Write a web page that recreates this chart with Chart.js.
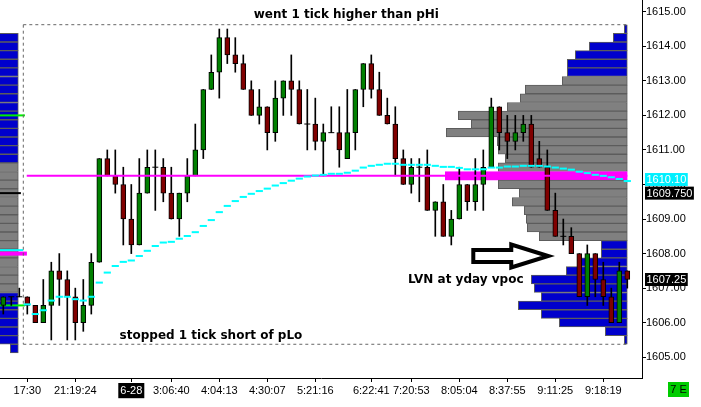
<!DOCTYPE html>
<html>
<head>
<meta charset="utf-8">
<script src="https://cdn.jsdelivr.net/npm/chart.js@4.4.0/dist/chart.umd.min.js"></script>
<style>
  html, body { margin: 0; padding: 0; background: #fff; }
  #wrap { width: 701px; height: 407px; }
</style>
</head>
<body>
<div id="wrap"><canvas id="grafico"></canvas></div>
<script>
// ES bars, one per slot (index 0..78)
const opens = [1606.5,1606.75,1606.75,1606.75,1606.5,1606.0,1606.5,1607.5,1607.25,1606.75,
  1606.0,1606.5,1607.75,1610.75,1610.25,1610.0,1609.0,1608.25,1609.75,1610.5,
  1610.5,1609.75,1609.0,1609.75,1610.25,1611.0,1612.75,1613.25,1614.25,1613.75,
  1613.5,1612.75,1612.0,1612.25,1611.5,1612.5,1613.0,1612.75,1611.75,1611.75,
  1611.25,1611.5,1611.5,1610.75,1611.5,1612.75,1613.5,1612.75,1612.0,1611.75,
  1610.75,1610.0,1610.5,1610.5,1609.25,1609.5,1608.5,1609.0,1610.0,1609.5,
  1610.0,1610.5,1612.25,1611.5,1611.25,1611.5,1611.75,1610.75,1610.5,1609.25,
  1608.5,1608.5,1608.0,1606.75,1608.0,1607.25,1606.75,1606.0,1607.5];
const highs = [1606.75,1606.75,1607.0,1606.75,1606.5,1607.25,1607.75,1608.0,1607.5,1607.0,
  1607.25,1608.0,1610.75,1611.0,1611.0,1610.5,1610.0,1610.75,1611.0,1611.0,
  1610.75,1610.5,1609.75,1610.75,1611.75,1612.75,1613.75,1614.5,1614.5,1614.25,
  1613.75,1613.0,1612.75,1612.25,1613.0,1613.0,1613.75,1613.0,1612.75,1612.5,
  1611.75,1612.25,1612.25,1612.75,1612.75,1613.5,1613.75,1613.25,1612.5,1612.25,
  1611.0,1610.75,1610.75,1611.0,1609.5,1610.0,1609.25,1610.5,1610.0,1610.75,
  1611.0,1612.5,1612.25,1612.0,1612.0,1612.0,1612.0,1611.25,1611.0,1609.75,
  1609.0,1608.75,1608.0,1608.25,1608.0,1607.75,1607.0,1607.75,1607.5];
const lows = [1606.25,1606.5,1606.75,1606.25,1606.0,1606.0,1605.5,1606.5,1605.5,1605.5,
  1605.75,1606.25,1607.75,1610.25,1609.75,1608.25,1608.0,1608.25,1609.75,1609.25,
  1609.5,1609.0,1608.5,1609.5,1610.25,1610.75,1612.75,1612.5,1613.5,1613.25,
  1612.75,1612.0,1611.75,1611.0,1611.25,1612.0,1612.0,1611.75,1611.0,1611.0,
  1610.25,1611.5,1610.5,1610.75,1611.0,1612.25,1612.5,1612.0,1611.75,1610.25,
  1610.0,1609.75,1609.5,1609.25,1608.5,1608.5,1608.25,1609.0,1609.25,1609.25,
  1609.25,1610.5,1611.0,1610.75,1611.0,1611.25,1610.5,1610.5,1609.25,1608.5,
  1608.25,1608.0,1606.75,1606.5,1606.75,1606.5,1606.0,1606.0,1607.0];
const closes = [1606.75,1606.75,1606.75,1606.5,1606.0,1606.5,1607.5,1607.25,1606.75,1606.0,
  1606.5,1607.75,1610.75,1610.25,1610.0,1609.0,1608.25,1609.75,1610.5,1610.5,
  1609.75,1609.0,1609.75,1610.25,1611.0,1612.75,1613.25,1614.25,1613.75,1613.5,
  1612.75,1612.0,1612.25,1611.5,1612.5,1613.0,1612.75,1611.75,1611.75,1611.25,
  1611.5,1611.5,1611.0,1611.5,1612.75,1613.5,1612.75,1612.0,1611.75,1610.75,
  1610.0,1610.5,1610.5,1609.25,1609.5,1608.5,1609.0,1610.0,1609.5,1610.0,
  1610.5,1612.25,1611.5,1611.25,1611.5,1611.75,1610.5,1610.5,1609.25,1608.5,
  1608.5,1608.0,1606.75,1608.0,1607.25,1606.75,1606.0,1607.5,1607.25];

// session vwap, one value per bar from the session open (index 3)
const sessionStart = 3;
const vwap = [1606.53,1606.25,1606.36,1606.64,1606.75,1606.75,1606.68,1606.64,1606.75,1607.16,
  1607.45,1607.64,1607.76,1607.80,1607.93,1608.08,1608.22,1608.32,1608.34,1608.43,
  1608.51,1608.62,1608.80,1608.97,1609.20,1609.38,1609.52,1609.64,1609.73,1609.81,
  1609.88,1609.97,1610.04,1610.11,1610.17,1610.23,1610.26,1610.28,1610.31,1610.31,
  1610.34,1610.40,1610.49,1610.54,1610.57,1610.60,1610.60,1610.57,1610.57,1610.57,
  1610.57,1610.54,1610.51,1610.51,1610.48,1610.44,1610.44,1610.44,1610.49,1610.49,
  1610.52,1610.52,1610.54,1610.54,1610.54,1610.52,1610.49,1610.46,1610.43,1610.37,
  1610.33,1610.28,1610.25,1610.21,1610.16,1610.10];

// today's volume profile (price rows, top to bottom)
const profPrices = [1614.5,1614.25,1614.0,1613.75,1613.5,1613.25,1613.0,1612.75,1612.5,1612.25,
  1612.0,1611.75,1611.5,1611.25,1611.0,1610.75,1610.5,1610.25,1610.0,1609.75,
  1609.5,1609.25,1609.0,1608.75,1608.5,1608.25,1608.0,1607.75,1607.5,1607.25,
  1607.0,1606.75,1606.5,1606.25,1606.0,1605.75,1605.5];
const profVol = [3,14,38,52,60,60,65,102,107,120,
  169,156,181,130,129,122,129,182,129,108,
  115,103,101,100,88,26,26,47,61,96,
  93,86,109,86,68,22,3];
const vaHigh = 1613.0, vaLow = 1608.5, profPoc = 1610.25;

// yesterday's profile, only its right end is on screen
const prevPrices = [1614.25,1614.0,1613.75,1613.5,1613.25,1613.0,1612.75,1612.5,1612.25,1612.0,
  1611.75,1611.5,1611.25,1611.0,1610.75,1610.5,1610.25,1610.0,1609.75,1609.5,
  1609.25,1609.0,1608.75,1608.5,1608.25,1608.0,1607.75,1607.5,1607.25,1607.0,
  1606.75,1606.5,1606.25,1606.0,1605.75,1605.5,1605.25];
const prevVol = [40,45,52,60,64,70,72,75,80,86,
  90,95,98,104,110,118,124,130,136,140,
  138,132,128,126,150,160,140,120,110,96,
  80,70,60,48,36,26,8];
const prevVaHigh = 1610.5, prevVaLow = 1607.0;

// levels from previous sessions
const prevVah = 1612.0, prevVal = 1606.5, prevClose = 1609.75, prevPoc = 1608.0, prevVwap = 1608.1;
const yPoc = 1610.25; // yesterday's vpoc, carried forward

const tick = 0.25;

const xTickIdx = [3, 9, 16, 21, 27, 33, 39, 46, 51, 57, 63, 69, 75];
const xTickLabels = ['17:30', '21:19:24', '6-28', '3:06:40', '4:04:13', '4:30:07', '5:21:16',
  '6:22:41', '7:20:53', '8:05:04', '8:37:55', '9:11:25', '9:18:19'];
const yTickVals = [1605, 1606, 1607, 1608, 1609, 1610, 1611, 1612, 1613, 1614, 1615];

const notes = [
  { text: 'went 1 tick higher than pHi', x: 42.88, y: 1614.81 },
  { text: 'stopped 1 tick short of pLo', x: 25.96, y: 1605.52 },
  { text: 'LVN at yday vpoc', x: 57.81, y: 1607.16 }
];
const arrow = { tailX: 58.75, tipX: 68.12, y: 1607.93 };

const lastIdx = opens.length - 1;
const volPerBar = 8; // profile volume units per bar slot
const prevEdge = 1.875;

const candleIdx = opens.map((o, i) => i);
const bodies = candleIdx.filter(i => opens[i] !== closes[i]);
const dojis = candleIdx.filter(i => opens[i] === closes[i]);

const sessHigh = Math.max(...highs) + tick / 2;
const sessLow = Math.min(...lows) - tick / 2;

function flatLine(x0, x1, y, color, width, extra) {
  return Object.assign({
    type: 'line',
    data: [{ x: x0, y: y }, { x: x1, y: y }],
    borderColor: color,
    borderWidth: width,
    pointRadius: 0,
    order: 9
  }, extra || {});
}

const datasets = [
  // yesterday's profile
  {
    type: 'bar', indexAxis: 'y', grouped: false,
    data: prevPrices.map((p, i) => ({ y: p, x: [prevEdge - prevVol[i] / volPerBar, prevEdge] })),
    backgroundColor: prevPrices.map(p => (p <= prevVaHigh && p >= prevVaLow) ? '#808080' : '#0000cc'),
    borderColor: '#5c5c5c', borderWidth: 1, borderSkipped: false,
    barThickness: 8.6, order: 12
  },
  // today's profile
  {
    type: 'bar', indexAxis: 'y', grouped: false,
    data: profPrices.map((p, i) => ({ y: p, x: [lastIdx - profVol[i] / volPerBar, lastIdx] })),
    backgroundColor: profPrices.map(p => p === profPoc ? '#ff00ff' : (p <= vaHigh && p >= vaLow) ? '#808080' : '#0000cc'),
    borderColor: profPrices.map(p => p === profPoc ? '#ff00ff' : '#5c5c5c'),
    borderWidth: 1, borderSkipped: false,
    barThickness: 8.6, order: 11
  },
  flatLine(-1, 2.7, prevVah, '#00ee00', 2),
  flatLine(-1, 2.7, prevVal, '#00ee00', 2),
  flatLine(-1, 2.2, prevClose, '#000', 2),
  flatLine(-1, 2.95, prevPoc, '#ff00ff', 4),
  flatLine(-1, 2.5, prevVwap, '#00ffff', 2),
  // session range box
  flatLine(sessionStart - 0.5, lastIdx, sessHigh, '#666', 1, { borderDash: [3, 3], order: 8 }),
  flatLine(sessionStart - 0.5, lastIdx, sessLow, '#666', 1, { borderDash: [3, 3], order: 8 }),
  {
    type: 'line',
    data: [{ x: sessionStart - 0.5, y: sessHigh }, { x: sessionStart - 0.5, y: sessLow }],
    borderColor: '#666', borderWidth: 1, borderDash: [3, 3], pointRadius: 0, order: 8
  },
  // wicks
  {
    type: 'bar', grouped: false,
    data: candleIdx.map(i => ({ x: i, y: [lows[i], highs[i]] })),
    backgroundColor: '#000', borderWidth: 0, barThickness: 1, order: 6
  },
  // bodies
  {
    type: 'bar', grouped: false,
    data: bodies.map(i => ({ x: i, y: [opens[i], closes[i]] })),
    backgroundColor: bodies.map(i => closes[i] > opens[i] ? '#008000' : '#800000'),
    borderColor: '#000', borderWidth: 1, borderSkipped: false,
    barThickness: 5, order: 5
  },
  // doji
  {
    type: 'scatter',
    data: dojis.map(i => ({ x: i, y: opens[i] })),
    pointStyle: 'line', pointRadius: 3, borderColor: '#000', borderWidth: 1, order: 4
  },
  // yesterday's vpoc line
  flatLine(sessionStart - 0.07, lastIdx, yPoc, '#ff00ff', 2, { order: 2 }),
  // vwap steps
  {
    type: 'scatter',
    data: vwap.map((v, k) => ({ x: sessionStart + k, y: v })),
    pointStyle: 'line', pointRadius: 3.6, borderColor: '#00ffff', borderWidth: 2, order: 0
  }
];

const axisTags = [
  { value: vwap[vwap.length - 1], text: vwap[vwap.length - 1].toFixed(2), bg: '#00f0ff', dy: -1.5 },
  { value: prevClose, text: prevClose.toFixed(3), bg: '#000', dy: 0 },
  { value: closes[lastIdx], text: closes[lastIdx].toFixed(2), bg: '#000', dy: 0 }
];

const notesPlugin = {
  id: 'notes',
  afterDatasetsDraw(chart) {
    const { ctx, scales: { x, y } } = chart;
    ctx.save();
    ctx.font = 'bold 12px "DejaVu Sans"';
    ctx.fillStyle = '#000';
    ctx.textAlign = 'center';
    ctx.textBaseline = 'alphabetic';
    notes.forEach(n => ctx.fillText(n.text, x.getPixelForValue(n.x), y.getPixelForValue(n.y)));

    // hollow arrow
    const x0 = x.getPixelForValue(arrow.tailX);
    const x1 = x.getPixelForValue(arrow.tipX);
    const yc = y.getPixelForValue(arrow.y);
    const hx = x1 - 37;
    ctx.beginPath();
    ctx.moveTo(x0, yc - 6);
    ctx.lineTo(hx, yc - 6);
    ctx.lineTo(hx, yc - 11.5);
    ctx.lineTo(x1, yc);
    ctx.lineTo(hx, yc + 11.5);
    ctx.lineTo(hx, yc + 6);
    ctx.lineTo(x0, yc + 6);
    ctx.closePath();
    ctx.fillStyle = '#fff';
    ctx.fill();
    ctx.lineWidth = 4;
    ctx.lineJoin = 'miter';
    ctx.strokeStyle = '#000';
    ctx.stroke();
    ctx.restore();
  },
  afterDraw(chart) {
    const { ctx, chartArea, scales: { y } } = chart;
    ctx.save();
    ctx.font = '11px "Liberation Sans"';
    ctx.textBaseline = 'middle';
    ctx.textAlign = 'left';
    axisTags.forEach(t => {
      const py = y.getPixelForValue(t.value) + t.dy;
      const w = ctx.measureText(t.text).width + 3;
      ctx.fillStyle = t.bg;
      ctx.fillRect(y.left + 3, py - 6.5, w, 13);
      ctx.fillStyle = '#fff';
      ctx.fillText(t.text, y.left + 4.5, py + 0.5);
    });
    // connection box
    ctx.fillStyle = '#00cc00';
    ctx.fillRect(chartArea.right + 26, chartArea.bottom + 4, 21, 15);
    ctx.fillStyle = '#000';
    ctx.textAlign = 'center';
    ctx.fillText('7 E', chartArea.right + 36.5, chartArea.bottom + 12);
    ctx.restore();
  }
};

new Chart(document.getElementById('grafico'), {
  type: 'bar',
  data: { datasets: datasets },
  options: {
    responsive: true,
    maintainAspectRatio: false,
    animation: false,
    events: [],
    layout: { padding: 0, autoPadding: false },
    plugins: {
      legend: { display: false },
      tooltip: { enabled: false }
    },
    scales: {
      x: {
        type: 'linear', min: -0.4125, max: 79.8375, offset: false, beginAtZero: false,
        grid: { drawOnChartArea: false, drawTicks: true, tickLength: 4, color: '#000', offset: false },
        border: { display: true, color: '#000', width: 1 },
        afterBuildTicks: s => { s.ticks = xTickIdx.map(v => ({ value: v })); },
        afterFit: s => { s.height = 29; s.paddingLeft = 0; s.paddingRight = 0; },
        ticks: {
          autoSkip: false, maxRotation: 0, minRotation: 0, padding: 2,
          font: { family: 'Liberation Sans', size: 11 },
          color: c => (c.tick && xTickLabels[xTickIdx.indexOf(c.tick.value)] === '6-28') ? '#fff' : '#000',
          showLabelBackdrop: c => !!(c.tick && xTickLabels[xTickIdx.indexOf(c.tick.value)] === '6-28'),
          backdropColor: '#000',
          backdropPadding: { top: 1, bottom: 1, left: 2, right: 2 },
          callback: v => xTickLabels[xTickIdx.indexOf(v)]
        }
      },
      y: {
        type: 'linear', position: 'right', min: 1604.399, max: 1615.340,
        offset: false, beginAtZero: false,
        grid: { drawOnChartArea: false, drawTicks: true, tickLength: 4, color: '#000', offset: false },
        border: { display: true, color: '#000', width: 1 },
        afterBuildTicks: s => { s.ticks = yTickVals.map(v => ({ value: v })); },
        afterFit: s => { s.width = 59; s.paddingTop = 0; s.paddingBottom = 0; },
        ticks: {
          padding: 0,
          font: { family: 'Liberation Sans', size: 11 },
          color: '#000',
          callback: v => v.toFixed(2)
        }
      }
    }
  },
  plugins: [notesPlugin]
});
</script>
</body>
</html>
